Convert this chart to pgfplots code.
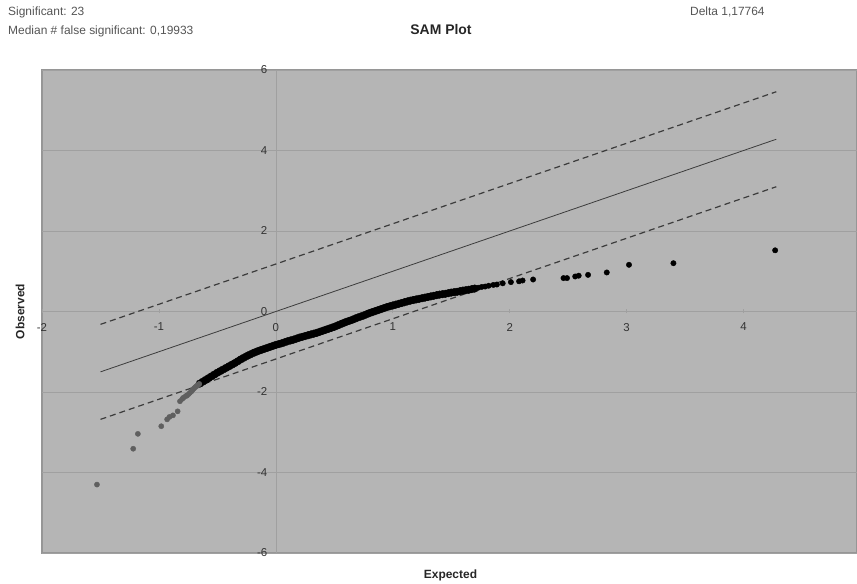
\documentclass[border=0pt]{standalone}
\usepackage{fontspec}
\setmainfont{Liberation Sans}
\usepackage{pgfplots}
\pgfplotsset{compat=1.18}
\usetikzlibrary{calc}

\definecolor{plotbg}{RGB}{181,181,181}
\definecolor{gridgray}{RGB}{160,160,160}
\definecolor{framegray}{RGB}{150,150,150}
\definecolor{linegray}{RGB}{60,60,60}
\definecolor{siggray}{RGB}{95,95,95}
\definecolor{txtgray}{RGB}{85,85,85}

\begin{document}
\begin{tikzpicture}
\begin{axis}[
    scale only axis,
    width=815bp, height=483bp,
    xmin=-2, xmax=4.97,
    ymin=-6, ymax=6,
    axis lines=middle,
    every inner x axis line/.append style={-},
    every inner y axis line/.append style={-},
    axis line style={draw=gridgray, line width=0.7bp},
    xtick={-2,-1,0,1,2,3,4},
    ytick={-6,-4,-2,0,2,4,6},
    hide obscured x ticks=false,
    hide obscured y ticks=false,
    ymajorgrids,
    grid style={draw=gridgray, line width=0.7bp},
    major tick length=4bp,
    tick style={draw=gridgray, line width=0.7bp},
    axis background/.style={fill=plotbg, draw=framegray, line width=1.2bp},
    tick label style={font=\fontsize{11.5}{13}\selectfont, text=black!80},
    xticklabel style={yshift=-6bp},
    yticklabel style={xshift=-3bp},
    /pgf/number format/assume math mode=true,
    clip=false,
]
% y = x and the two Delta bands
\addplot[linegray, line width=0.8bp] coordinates {(-1.5,-1.5) (4.28,4.28)};
\addplot[linegray, line width=1.2bp, dash pattern=on 6bp off 4bp] coordinates {(-1.5,-0.32) (4.28,5.46)};
\addplot[linegray, line width=1.2bp, dash pattern=on 6bp off 4bp] coordinates {(-1.5,-2.68) (4.28,3.10)};

% non significant genes (dense part)
\addplot[only marks, mark=*, mark size=3.8bp, mark options={fill=black, draw=black}] coordinates {
(-0.65,-1.79) (-0.625,-1.745) (-0.60,-1.70) (-0.575,-1.655) (-0.55,-1.61)
(-0.525,-1.565) (-0.50,-1.52) (-0.475,-1.48) (-0.45,-1.44) (-0.425,-1.40)
(-0.40,-1.36) (-0.375,-1.32) (-0.35,-1.28) (-0.325,-1.235) (-0.30,-1.19)
(-0.275,-1.15) (-0.25,-1.11) (-0.225,-1.075) (-0.20,-1.04) (-0.175,-1.01)
(-0.15,-0.98) (-0.125,-0.955) (-0.10,-0.93) (-0.075,-0.905) (-0.05,-0.88)
(-0.025,-0.855) (0.00,-0.83) (0.025,-0.81) (0.05,-0.79) (0.075,-0.765)
(0.10,-0.74) (0.125,-0.72) (0.15,-0.70) (0.175,-0.675) (0.20,-0.65)
(0.225,-0.63) (0.25,-0.61) (0.275,-0.59) (0.30,-0.57) (0.325,-0.55)
(0.35,-0.53) (0.375,-0.505) (0.40,-0.48) (0.425,-0.455) (0.45,-0.43)
(0.475,-0.405) (0.50,-0.38) (0.525,-0.35) (0.55,-0.32) (0.575,-0.29)
(0.60,-0.26) (0.625,-0.235) (0.65,-0.21) (0.675,-0.18) (0.70,-0.15)
(0.725,-0.125) (0.75,-0.10) (0.775,-0.07) (0.80,-0.04) (0.825,-0.015)
(0.85,0.01) (0.875,0.035) (0.90,0.06) (0.925,0.085) (0.95,0.11)
(0.975,0.13) (1.00,0.15) (1.025,0.17) (1.05,0.19) (1.075,0.21)
(1.10,0.23) (1.125,0.25) (1.15,0.27) (1.175,0.285) (1.20,0.30)
(1.225,0.315) (1.25,0.33) (1.275,0.345) (1.30,0.36) (1.325,0.375)
(1.35,0.39) (1.375,0.405) (1.40,0.42) (1.425,0.43) (1.45,0.44)
(1.475,0.455) (1.50,0.47) (1.525,0.48) (1.55,0.49) (1.575,0.505)
(1.60,0.52) (1.625,0.53) (1.65,0.54) (1.675,0.555) (1.70,0.57)
};
% non significant genes (sparse tail)
\addplot[only marks, mark=*, mark size=2.7bp, mark options={fill=black, draw=black}] coordinates {
(1.73,0.59) (1.76,0.61) (1.79,0.62) (1.82,0.64) (1.86,0.66) (1.89,0.67)
(1.94,0.70) (2.01,0.73) (2.08,0.75) (2.11,0.77) (2.20,0.795)
(2.46,0.83) (2.49,0.83) (2.56,0.87) (2.59,0.89) (2.67,0.91)
(2.83,0.97) (3.02,1.16) (3.40,1.20) (4.27,1.52)
};
% significant genes (23)
\addplot[only marks, mark=*, mark size=2.6bp, mark options={fill=siggray, draw=siggray}] coordinates {
(-1.53,-4.30) (-1.22,-3.41) (-1.18,-3.04) (-0.98,-2.85) (-0.93,-2.68)
(-0.91,-2.62) (-0.88,-2.58) (-0.84,-2.48) (-0.82,-2.23) (-0.80,-2.17)
(-0.79,-2.14) (-0.77,-2.10) (-0.76,-2.09) (-0.745,-2.05) (-0.735,-2.02)
(-0.72,-1.98) (-0.71,-1.94) (-0.70,-1.91) (-0.69,-1.88) (-0.68,-1.86)
(-0.67,-1.83) (-0.66,-1.81) (-0.655,-1.80)
};

\coordinate (bl) at (rel axis cs:0,0);
\coordinate (tr) at (rel axis cs:1,1);
\coordinate (tl) at (rel axis cs:0,1);
\coordinate (bc) at (rel axis cs:0.5,0);
\coordinate (lz) at (axis cs:-2,0);
\end{axis}

\node[anchor=west, inner sep=0pt, font=\fontsize{12}{14}\selectfont, text=txtgray] at ($(tl)+(-34bp,58bp)$) {Significant: 23};
\node[anchor=west, inner sep=0pt, font=\fontsize{12}{14}\selectfont, text=txtgray] at ($(tl)+(-34bp,39bp)$) {Median \# false significant: 0,19933};
\node[anchor=west, inner sep=0pt, font=\fontsize{12}{14}\selectfont, text=txtgray] at ($(tl)+(648bp,58bp)$) {Delta 1,17764};
\node[font=\fontsize{14}{16}\selectfont\bfseries, text=black!85] at ($(tl)+(399bp,40bp)$) {SAM Plot};
\node[font=\fontsize{12}{14}\selectfont\bfseries, text=black!85] at ($(bc)+(1bp,-22bp)$) {Expected};
\node[rotate=90, font=\fontsize{12}{14}\selectfont\bfseries, text=black!85] at ($(lz)+(-22bp,0)$) {Observed};

\pgfresetboundingbox
\path[use as bounding box] ($(bl)+(-42bp,-31bp)$) rectangle ($(tr)+(0bp,70bp)$);
\end{tikzpicture}
\end{document}
